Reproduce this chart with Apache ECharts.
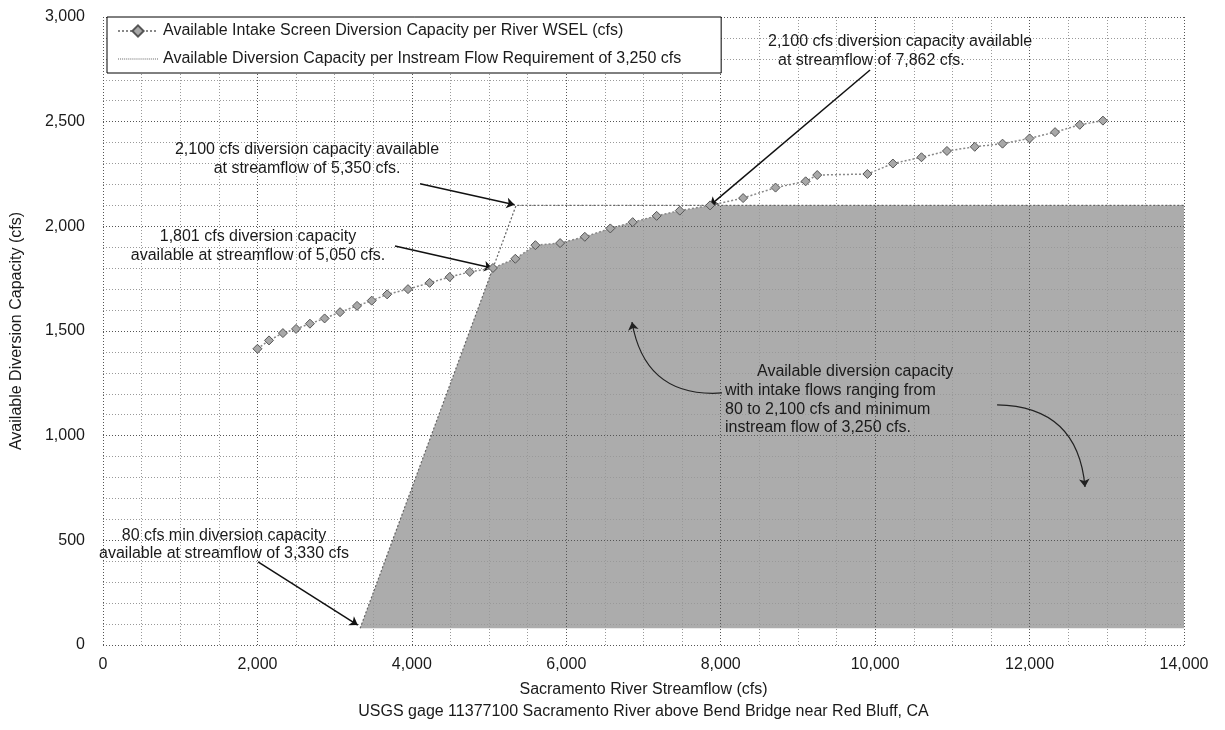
<!DOCTYPE html>
<html>
<head>
<meta charset="utf-8">
<script src="https://cdn.jsdelivr.net/npm/echarts@6/dist/echarts.min.js"></script>
<style>
html,body{margin:0;padding:0;background:#fff;}
#chart{width:1225px;height:730px;}
</style>
</head>
<body>
<div id="chart"></div>
<script>
// ---------- DATA ----------
const wselFlow = [2000,2150,2330,2500,2680,2870,3070,3290,3480,3680,3950,4230,4490,4750,5050,
  5340,5600,5920,6240,6570,6860,7170,7470,7862,8290,8710,9100,9250,9900,10230,10600,10930,
  11290,11650,12000,12330,12650,12950];
const wselCapacity = [1415,1455,1490,1510,1535,1560,1590,1620,1645,1675,1700,1730,1758,1782,1801,
  1845,1910,1920,1950,1990,2020,2050,2075,2100,2135,2185,2215,2245,2250,2300,2330,2360,
  2380,2395,2420,2450,2485,2505];
const instreamFlow = [3330, 5350, 14000];
const instreamCapacity = [80, 2100, 2100];
const minIntake = 80;
const maxIntake = 2100;
const minStreamflow = 3330;
const crossStreamflow = 7862;
const xMax = 14000;
const yMax = 3000;

const seriesNames = [
  'Available Intake Screen Diversion Capacity per River WSEL (cfs)',
  'Available Diversion Capacity per Instream Flow Requirement of 3,250 cfs'
];

// ---------- BUILD ----------
const wselData = wselFlow.map((x,i)=>[x, wselCapacity[i]]);
const instreamData = instreamFlow.map((x,i)=>[x, instreamCapacity[i]]);
const fillPoly = [[minStreamflow, minIntake]];
wselFlow.forEach((x,i)=>{ if (x>=5050 && x<crossStreamflow) fillPoly.push([x, wselCapacity[i]]); });
fillPoly.push([crossStreamflow, maxIntake]);
fillPoly.push([xMax, maxIntake]);
fillPoly.push([xMax, minIntake]);

// dotted legend icon for the instream line
let dashPath = 'path://';
for (let i = 0; i < 20; i++) dashPath += 'M' + (i*2) + ',0h1v1h-1z';

const FONT = '"Liberation Sans", Arial, sans-serif';
const TXT = '#1a1a1a';

const arrows = [
  [[9934,2747],[7862,2100]],
  [[4106,2203],[5330,2103]],
  [[3782,1906],[5040,1801]],
  [[2008,397],[3300,95]]
];
const curves = [
  [[8017,1204],[6851,1543]],
  [[11579,1147],[12718,755]]
];

const texts = [
  {x:768, y:42, t:'2,100 cfs diversion capacity available', a:'left'},
  {x:778, y:61, t:'at streamflow of 7,862 cfs.', a:'left'},
  {x:307, y:150, t:'2,100 cfs diversion capacity available', a:'center'},
  {x:307, y:169, t:'at streamflow of 5,350 cfs.', a:'center'},
  {x:258, y:237, t:'1,801 cfs diversion capacity', a:'center'},
  {x:258, y:256, t:'available at streamflow of 5,050 cfs.', a:'center'},
  {x:224, y:536, t:'80 cfs min diversion capacity', a:'center'},
  {x:224, y:554, t:'available at streamflow of 3,330 cfs', a:'center'},
  {x:757, y:372, t:'Available diversion capacity', a:'left'},
  {x:725, y:391, t:'with intake flows ranging from', a:'left'},
  {x:725, y:410, t:'80 to 2,100 cfs and minimum', a:'left'},
  {x:725, y:428, t:'instream flow of 3,250 cfs.', a:'left'}
];

const chart = echarts.init(document.getElementById('chart'), null, {renderer:'canvas'});
const splitStyle = {color: '#555', type: [1,2], width: 1};
const minorStyle = {color: '#999', type: [1,2], width: 1};
const option = {
  animation: false,
  backgroundColor: '#fff',
  textStyle: {fontFamily: FONT, color: TXT},
  grid: {left: 103, right: 41, top: 17, bottom: 85, containLabel: false},
  legend: {
    left: 107, top: 17, orient: 'vertical',
    backgroundColor: '#fff', borderColor: '#000', borderWidth: 1,
    padding: [6, 40, 6, 10], itemGap: 12, itemWidth: 40, itemHeight: 14,
    textStyle: {fontFamily: FONT, fontSize: 16, color: TXT},
    data: [{name: seriesNames[0]}, {name: seriesNames[1], icon: dashPath, itemStyle: {color: '#666'}}]
  },
  xAxis: {
    type: 'value', min: 0, max: xMax, interval: 2000, z: 2,
    name: 'Sacramento River Streamflow (cfs)\nUSGS gage 11377100 Sacramento River above Bend Bridge near Red Bluff, CA',
    nameLocation: 'middle', nameGap: 34,
    nameTextStyle: {fontFamily: FONT, fontSize: 16, color: TXT, lineHeight: 22},
    axisLine: {show: false}, axisTick: {show: false},
    axisLabel: {fontFamily: FONT, fontSize: 16, color: TXT, margin: 12},
    splitLine: {show: true, lineStyle: splitStyle},
    minorTick: {show: false, splitNumber: 4},
    minorSplitLine: {show: true, lineStyle: minorStyle}
  },
  yAxis: {
    type: 'value', min: 0, max: yMax, interval: 500, z: 2,
    name: 'Available Diversion Capacity (cfs)',
    nameLocation: 'middle', nameGap: 78,
    nameTextStyle: {fontFamily: FONT, fontSize: 16, color: TXT},
    axisLine: {show: false}, axisTick: {show: false},
    axisLabel: {fontFamily: FONT, fontSize: 16, color: TXT, margin: 18},
    splitLine: {show: true, lineStyle: splitStyle},
    minorTick: {show: false, splitNumber: 5},
    minorSplitLine: {show: true, lineStyle: minorStyle}
  },
  series: [
    {
      name: 'fill', type: 'custom', z: 1, silent: true,
      data: fillPoly, encode: {x: 0, y: 1},
      renderItem: function(params, api){
        if (params.dataIndex !== 0) return null;
        const pts = fillPoly.map(p => api.coord(p));
        return {type: 'polygon', shape: {points: pts}, style: {fill: 'rgba(70,70,70,0.45)', stroke: null}};
      }
    },
    {
      name: seriesNames[1], type: 'line', data: instreamData, symbol: 'none',
      lineStyle: {color: '#666', width: 1.2, type: [2,2]}, itemStyle: {color: '#666'}, z: 4
    },
    {
      name: seriesNames[0], type: 'line', data: wselData,
      symbol: 'diamond', symbolSize: 9,
      lineStyle: {color: '#888', width: 1.5, type: [2,2]},
      itemStyle: {color: '#a8a8a8', borderColor: '#555', borderWidth: 1},
      z: 5,
      markLine: {
        silent: true, symbol: ['none','arrow'], symbolSize: 8,
        label: {show: false},
        lineStyle: {color: '#111', width: 1.5, type: 'solid'},
        data: arrows.map(a => [{coord: a[0]}, {coord: a[1]}])
      }
    },
    {
      name: 'curvedArrows', type: 'lines', coordinateSystem: 'cartesian2d', z: 6, silent: true,
      symbol: ['none','arrow'], symbolSize: 8,
      lineStyle: {color: '#222', width: 1.2, curveness: 0.45, opacity: 1},
      data: curves.map(c => ({coords: [c[0], c[1]]}))
    }
  ],
  graphic: texts.map(o => ({
    type: 'text', x: o.x, y: o.y, z: 100,
    style: {text: o.t, fill: TXT, font: '16px ' + FONT, textAlign: o.a, textVerticalAlign: 'middle'}
  }))
};
chart.setOption(option);
</script>
</body>
</html>
